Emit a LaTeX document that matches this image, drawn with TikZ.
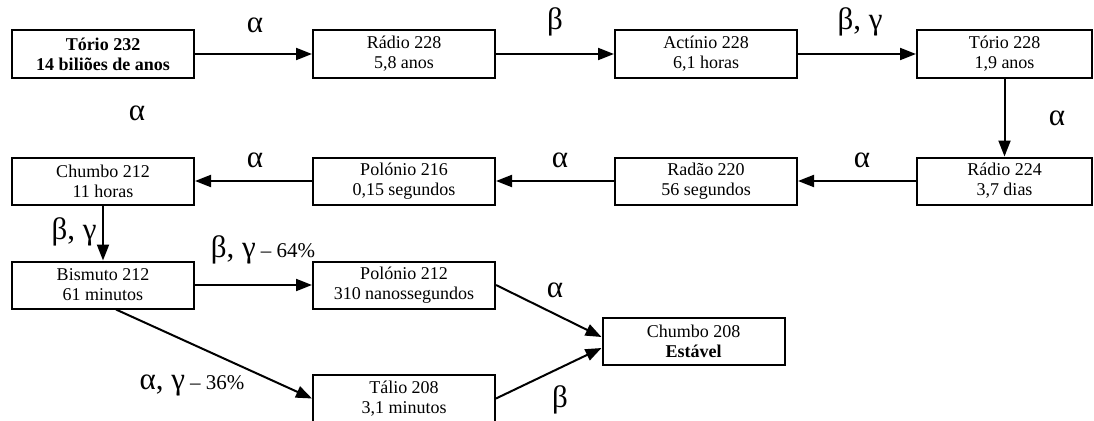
\documentclass[tikz,border=0pt]{standalone}
\usepackage{fontspec}
\setmainfont{Liberation Serif}
\usetikzlibrary{arrows.meta}

\begin{document}
\begin{tikzpicture}[x=1pt,y=-1pt,>={Triangle[length=16pt,width=12pt]},
  nucleo/.style={draw,line width=2pt,minimum width=182pt,minimum height=47pt,
    inner sep=0pt,align=center,font=\fontsize{18}{20}\selectfont},
  decai/.style={line width=2pt,->},
  rad/.style={font=\fontsize{31}{34}\selectfont}]
  \useasboundingbox (0,0) rectangle (1094,420);
  % first row
  \node[nucleo] (th232) at (103,54) {\textbf{Tório 232}\\\textbf{14 biliões de anos}};
  \node[nucleo] (ra228) at (404,54) {Rádio 228\\5,8 anos};
  \node[nucleo] (ac228) at (706,54) {Actínio 228\\6,1 horas};
  \node[nucleo,minimum width=175pt] (th228) at (1004.5,54) {Tório 228\\1,9 anos};
  % second row
  \node[nucleo] (pb212) at (103,181) {Chumbo 212\\11 horas};
  \node[nucleo] (po216) at (404,181) {Polónio 216\\0,15 segundos};
  \node[nucleo] (rn220) at (706,181) {Radão 220\\56 segundos};
  \node[nucleo,minimum width=175pt] (ra224) at (1004.5,181) {Rádio 224\\3,7 dias};
  % branch
  \node[nucleo] (bi212) at (103,285) {Bismuto 212\\61 minutos};
  \node[nucleo] (po212) at (404,285) {Polónio 212\\310 nanossegundos};
  \node[nucleo] (tl208) at (404,398.5) {Tálio 208\\3,1 minutos};
  \node[nucleo] (pb208) at (693.5,341) {Chumbo 208\\\textbf{Estável}};

  \draw[decai] (th232.east) -- (ra228.west);
  \draw[decai] (ra228.east) -- (ac228.west);
  \draw[decai] (ac228.east) -- (th228.west);
  \draw[decai] (th228.south) -- (ra224.north);
  \draw[decai] (ra224.west) -- (rn220.east);
  \draw[decai] (rn220.west) -- (po216.east);
  \draw[decai] (po216.west) -- (pb212.east);
  \draw[decai] (pb212.south) -- (bi212.north);
  \draw[decai] (bi212.east) -- (po212.west);
  \draw[decai] ([xshift=13pt]bi212.south) -- (tl208.west);
  \draw[decai] (po212.east) -- ([yshift=4pt]pb208.west);
  \draw[decai] (tl208.east) -- ([yshift=-7pt]pb208.west);

  % decay labels
  \node[rad] (l1) at (255,25) {α};
  \node[rad] (l2) at (555,22) {β};
  \node[rad] (l3) at (860,22) {β, γ};
  \node[rad] (l4) at (137,113) {α};
  \node[rad] (l5) at (1057,118) {α};
  \node[rad] (l6) at (862,160) {α};
  \node[rad] (l7) at (560,160) {α};
  \node[rad] (l8) at (255,160) {α};
  \node[rad] (l9) at (74,232) {β, γ};
  \node[rad] (l10) at (263,250) {β, γ\,{\fontsize{21}{24}\selectfont – 64\%}};
  \node[rad] (l11) at (555,290) {α};
  \node[rad] (l12) at (192,385) {α, γ\,{\fontsize{21}{24}\selectfont – 36\%}};
  \node[rad] (l13) at (560,400) {β};
\end{tikzpicture}
\end{document}
